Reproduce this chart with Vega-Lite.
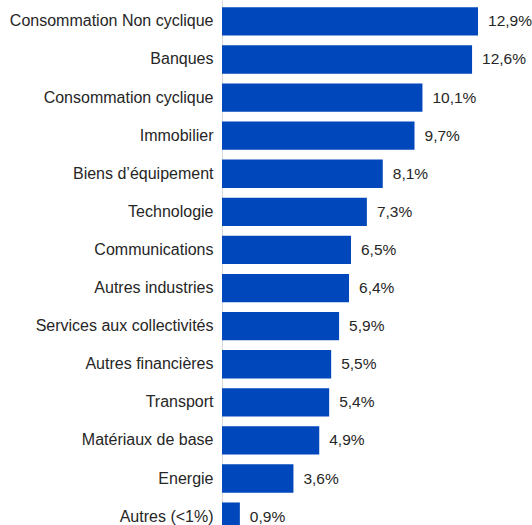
{
  "$schema": "https://vega.github.io/schema/vega-lite/v6.json",
  "width": 310,
  "height": 538,
  "autosize": {"type": "none"},
  "padding": {"left": 222, "top": 0, "right": 0, "bottom": 0},
  "config": {
    "view": {"stroke": null},
    "font": "Liberation Sans",
    "locale": {"number": {"decimal": ",", "thousands": " ", "grouping": [3], "currency": ["", " €"]}}
  },
  "data": {
    "values": [
      {"secteur": "Consommation Non cyclique", "poids": 0.129},
      {"secteur": "Banques", "poids": 0.126},
      {"secteur": "Consommation cyclique", "poids": 0.101},
      {"secteur": "Immobilier", "poids": 0.097},
      {"secteur": "Biens d’équipement", "poids": 0.081},
      {"secteur": "Technologie", "poids": 0.073},
      {"secteur": "Communications", "poids": 0.065},
      {"secteur": "Autres industries", "poids": 0.064},
      {"secteur": "Services aux collectivités", "poids": 0.059},
      {"secteur": "Autres financières", "poids": 0.055},
      {"secteur": "Transport", "poids": 0.054},
      {"secteur": "Matériaux de base", "poids": 0.049},
      {"secteur": "Energie", "poids": 0.036},
      {"secteur": "Autres (<1%)", "poids": 0.009}
    ]
  },
  "encoding": {
    "y": {
      "field": "secteur",
      "type": "nominal",
      "sort": null,
      "scale": {"paddingInner": 0.257, "paddingOuter": 0.19},
      "axis": {
        "title": null,
        "ticks": false,
        "domain": true,
        "domainColor": "#d9d9d9",
        "domainWidth": 1,
        "labelFontSize": 16,
        "labelColor": "#262626",
        "labelPadding": 9,
        "labelLimit": 300
      }
    },
    "x": {
      "field": "poids",
      "type": "quantitative",
      "scale": {"domain": [0, 0.1562], "nice": false, "zero": true},
      "axis": null
    }
  },
  "layer": [
    {"mark": {"type": "bar", "color": "#0047BB"}},
    {
      "mark": {"type": "text", "align": "left", "baseline": "middle", "dx": 10, "fontSize": 15.5, "color": "#262626"},
      "encoding": {"text": {"field": "poids", "type": "quantitative", "format": ".1%"}}
    }
  ]
}
